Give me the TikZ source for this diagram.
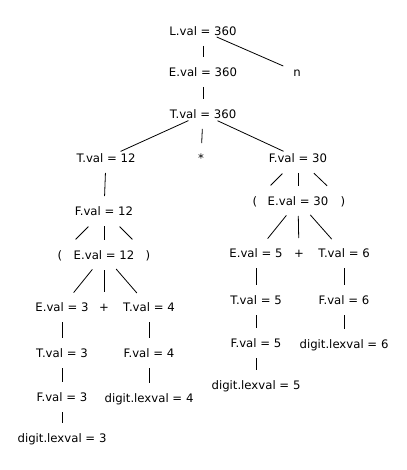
\documentclass[tikz,border=0pt]{standalone}
\usepackage{fontspec}
\setmainfont{DejaVu Sans}
\usepackage{tikz}
\usetikzlibrary{positioning}

\begin{document}
\begin{tikzpicture}[
  font=\fontsize{11.7}{14}\selectfont, on grid,
  lab/.style={inner sep=0pt,text height=8.5pt,text depth=0pt},
  br/.style={line width=0.8pt,shorten >=#1,shorten <=#1},
  br/.default=15pt]
\useasboundingbox (0,0) rectangle (406pt,-470pt);
% top spine
\node[lab] (l360) at (203pt,-31pt) {L.val = 360};
\node[lab,below right=41pt and 94pt of l360] (n) {n};
\node[lab,below=41pt of l360] (e360) {E.val = 360};
\node[lab,below=42pt of e360] (t360) {T.val = 360};
\node[lab,below left=44pt and 97pt of t360] (t12) {T.val = 12};
\node[lab,below left=44pt and 2pt of t360] (mul) {*};
\node[lab,below right=44pt and 95pt of t360] (f30) {F.val = 30};
% left subtree, (3+4)
\node[lab,below left=53pt and 2pt of t12] (f12) {F.val = 12};
\node[lab,below=44pt of f12] (e12) {E.val = 12};
\node[lab,left=44pt of e12] (lpa) {(};
\node[lab,right=44pt of e12] (rpa) {)};
\node[lab,below left=52pt and 42pt of e12] (e3) {E.val = 3};
\node[lab,below=52pt of e12] (pla) {+};
\node[lab,below right=52pt and 45pt of e12] (t4) {T.val = 4};
\node[lab,below=46pt of e3] (t3) {T.val = 3};
\node[lab,below=44pt of t3] (f3) {F.val = 3};
\node[lab,below=41pt of f3] (d3) {digit.lexval = 3};
\node[lab,below=46pt of t4] (f4) {F.val = 4};
\node[lab,below=45pt of f4] (d4) {digit.lexval = 4};
% right subtree, (5+6)
\node[lab,below=43pt of f30] (e30) {E.val = 30};
\node[lab,left=43pt of e30] (lpb) {(};
\node[lab,right=45pt of e30] (rpb) {)};
\node[lab,below left=52pt and 42pt of e30] (e5) {E.val = 5};
\node[lab,below right=52pt and 1pt of e30] (plb) {+};
\node[lab,below right=52pt and 46pt of e30] (t6) {T.val = 6};
\node[lab,below=47pt of e5] (t5) {T.val = 5};
\node[lab,below=43pt of t5] (f5) {F.val = 5};
\node[lab,below=42pt of f5] (d5) {digit.lexval = 5};
\node[lab,below=47pt of t6] (f6) {F.val = 6};
\node[lab,below=44pt of f6] (d6) {digit.lexval = 6};
% branches
\foreach \x/\y in {l360/e360,l360/n,e360/t360,t360/mul,t12/f12,f12/e12,e12/pla,e3/t3,t3/f3,f3/d3,t4/f4,f4/d4,f30/e30,e30/plb,e5/t5,t5/f5,f5/d5,t6/f6,f6/d6}
  \draw[br] (\x.center)--(\y.center);
\foreach \x/\y in {t360/t12,t360/f30} \draw[br=16pt] (\x.center)--(\y.center);
\foreach \x/\y in {e12/e3,e12/t4,e30/e5,e30/t6} \draw[br=18.5pt] (\x.center)--(\y.center);
\foreach \x/\y in {f12/lpa,f12/rpa,f30/lpb,f30/rpb} \draw[br=22pt] (\x.center)--(\y.center);
\end{tikzpicture}
\end{document}
